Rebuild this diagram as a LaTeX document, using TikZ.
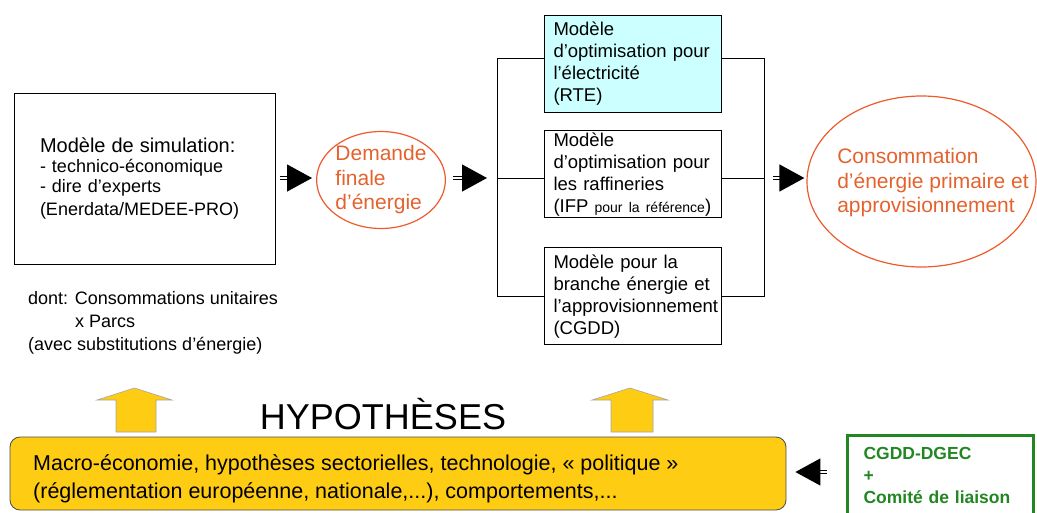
\documentclass[tikz,border=0pt]{standalone}
\usepackage{fontspec}
\setmainfont{Liberation Sans}
\usetikzlibrary{positioning, arrows.meta, shapes.geometric}

\definecolor{ovalred}{RGB}{238,90,44}
\definecolor{ovaltext}{RGB}{228,98,46}
\definecolor{rtecyan}{RGB}{204,255,255}
\definecolor{hypyellow}{RGB}{255,204,20}
\definecolor{liaisongreen}{RGB}{34,134,34}

\begin{document}
\begin{tikzpicture}[x=1pt, y=-1pt,
    modelbox/.style={rectangle, draw=black, line width=0.8pt, minimum width=177pt, text width=158pt, inner ysep=0pt, align=left, font=\fontsize{18.5}{22}\selectfont},
    simbox/.style={rectangle, draw=black, line width=0.8pt, minimum width=261pt, minimum height=171pt, inner xsep=26pt, text width=209pt, align=left, font=\fontsize{18}{20}\selectfont},
    ovalnode/.style={ellipse, draw=ovalred, line width=1.2pt, inner sep=0pt, text=ovaltext, align=left},
    ovaltxt/.style={align=left, text=ovaltext, inner sep=0pt, font=\fontsize{21}{24.5}\selectfont},
    flowarrow/.style={double, double distance=2pt, line width=1.2pt, -{Triangle[length=25pt, width=27pt]}},
    bus/.style={line width=0.8pt},
    hypbox/.style={rectangle, rounded corners=10pt, fill=hypyellow, draw=black!70, line width=0.8pt},
    hyparrow/.style={fill=hypyellow, draw=gray!70, line width=0.6pt},
    liaisonbox/.style={rectangle, draw=liaisongreen, line width=3pt, minimum width=186pt, minimum height=80pt, text width=154pt, align=left, text=liaisongreen, font=\fontsize{17.5}{22}\selectfont\bfseries},
]
\useasboundingbox (0,0) rectangle (1037,512);

% simulation model and final demand
\node[simbox] (sim) at (144.5,178.5) {{\fontsize{20}{24}\selectfont Modèle de simulation:}\\
- technico-économique\\
- dire d’experts\\[3pt]
(Enerdata/MEDEE-PRO)};
\node[ovalnode, minimum width=128pt, minimum height=96pt, font=\fontsize{21}{24.5}\selectfont] (demande) at (381,180) {Demande\\finale\\d’énergie};
\node[anchor=west, align=left, inner sep=0pt, font=\fontsize{18}{23}\selectfont] (dont) at (28,323) {dont: Consommations unitaires\\
\hspace*{47pt}x Parcs\\
(avec substitutions d’énergie)};

% optimisation models
\node[modelbox, minimum height=97pt, fill=rtecyan] (rte) at (632.5,63.5) {Modèle\\d’optimisation pour\\l’électricité\\(RTE)};
\node[modelbox, minimum height=87pt, below=18pt of rte] (ifp) {Modèle\\d’optimisation pour\\les raffineries\\(IFP {\fontsize{14}{22}\selectfont pour la référence})};
\node[modelbox, minimum height=97pt, below=29pt of ifp] (cgdd) {Modèle pour la\\branche énergie et\\l’approvisionnement\\(CGDD)};

% primary energy
\node[ovalnode, minimum width=229pt, minimum height=171pt] (conso) at (921.5,181.5) {};
\node[ovaltxt] (consotext) at (933,183) {Consommation\\d’énergie primaire et\\approvisionnement};

\coordinate (busL) at (497,178);
\coordinate (busR) at (764,178);

\draw[flowarrow, shorten <=5pt, shorten >=4pt] (sim.east |- busL) -- (busL -| demande.west);
\draw[flowarrow, shorten <=7pt, shorten >=10pt] (demande.east |- busL) -- (busL);
\draw[bus] ([yshift=5.5pt]rte.west) -| (cgdd.west -| busL) -- (cgdd.west);
\draw[bus] (busL) -- (busL -| ifp.west);
\draw[bus] ([yshift=5.5pt]rte.east) -| (cgdd.east -| busR) -- (cgdd.east);
\draw[bus] (busR -| ifp.east) -- (busR);
\draw[flowarrow, shorten <=9pt, shorten >=2pt] (busR) -- (busR -| conso.west);

% hypotheses
\node[font=\fontsize{36}{40}\selectfont] (hyptitle) at (383,414) {HYPOTHÈSES};
\draw[hyparrow] (116,432) -- (116,400) -- (97,400) -- (134.5,388) -- (172,400) -- (156,400) -- (156,432) -- cycle;
\draw[hyparrow] (611,432) -- (611,400) -- (592,400) -- (630,388) -- (668,400) -- (653,400) -- (653,432) -- cycle;
\node[hypbox, minimum width=776pt, minimum height=73pt] (hyp) at (398,473.5) {};
\node[anchor=west, align=left, inner sep=0pt, font=\fontsize{21.5}{28}\selectfont] (hyptext) at (33,479) {Macro-économie, hypothèses sectorielles, technologie, « politique »\\
(réglementation européenne, nationale,...), comportements,...};

\node[liaisonbox, anchor=north west] (liaison) at (846,434) {CGDD-DGEC\\+\\Comité de liaison};
\coordinate (tailB) at (827,472);
\draw[flowarrow, shorten >=9pt] (tailB) -- (tailB -| hyp.east);
\end{tikzpicture}
\end{document}
